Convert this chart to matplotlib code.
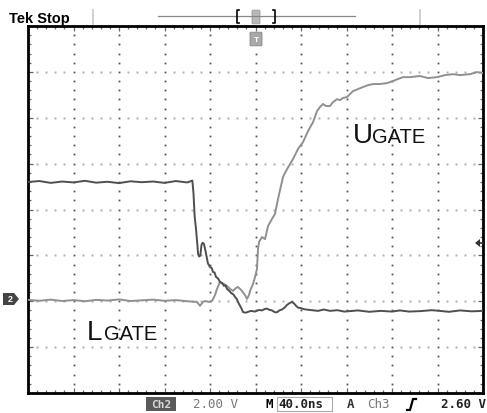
import numpy as np
import matplotlib
matplotlib.use("Agg")
import matplotlib.pyplot as plt
from matplotlib.lines import Line2D
from matplotlib.patches import FancyBboxPatch, Rectangle, Polygon

# ---------------- data (time in ns, voltage in V relative to Ch2 ground) ----------------
lgate_t = [-200, -190, -180, -170, -160, -150, -140, -130, -120, -110, -100, -90, -80, -70, -60,
           -55.5, -54.5, -53.5, -52.3, -51.0, -50.5, -49.5, -48.5, -47.5, -46.5, -45.3, -44.0, -43.0,
           -41.8, -40.0, -38.5, -37.4, -36.0, -34.7, -33.0, -31.2, -29.5, -27.7, -26.5, -25.1, -23.0,
           -21.5, -19.5, -18.0, -16.5, -15.4, -13.6, -12.0, -11.0, -9.0, -7.5, -4.0, -0.4, 3.0, 5.7,
           8.0, 10.1, 12.0, 14.5, 17.0, 18.9, 21.0, 23.3, 25.5, 27.7, 30.0, 32.1, 34.0, 35.6, 37.5,
           39.1, 43.0, 47.9, 55.0, 60.0, 65.5, 72.0, 78.0, 83.1, 90.0, 100.0, 110.0, 120.0, 127.0,
           135.0, 145.0, 155.0, 162.0, 170.0, 180.0, 190.0, 200.0]
lgate_v = [5.10, 5.14, 5.06, 5.12, 5.08, 5.15, 5.07, 5.11, 5.05, 5.13, 5.09, 5.12, 5.06, 5.14, 5.08,
           5.16, 4.60, 3.60, 3.05, 2.30, 1.96, 1.85, 1.90, 2.35, 2.45, 2.40, 2.10, 1.85,
           1.55, 1.39, 1.35, 1.18, 1.15, 0.96, 0.90, 0.74, 0.70, 0.57, 0.60, 0.44, 0.35,
           0.26, 0.20, 0.09, 0.00, -0.13, -0.30, -0.45, -0.57, -0.60, -0.58, -0.52, -0.55, -0.48, -0.50,
           -0.44, -0.42, -0.47, -0.50, -0.58, -0.58, -0.50, -0.46, -0.38, -0.26, -0.18, -0.13, -0.20, -0.30, -0.38,
           -0.39, -0.45, -0.48, -0.52, -0.46, -0.52, -0.49, -0.55, -0.53, -0.50, -0.56, -0.52, -0.55, -0.50,
           -0.55, -0.53, -0.49, -0.52, -0.56, -0.50, -0.54, -0.52]

ugate_t = [-200, -190, -180, -170, -160, -150, -140, -130, -120, -110, -100, -90, -80, -70, -60,
           -51.4, -48.8, -46.1, -44.4, -40.9, -38.2, -35.6, -33.8, -31.2, -27.7, -25.1, -22.4, -19.8,
           -17.1, -15.4, -13.6, -11.9, -9.2, -7.5, -5.7, -4.8, -2.2, -0.4, 1.3, 2.2, 3.1, 5.7, 8.4,
           11.0, 14.5, 17.1, 19.8, 24.2, 27.7, 33.0, 37.4, 41.8, 46.2, 50.6, 54.1, 56.7, 59.3, 62.0,
           65.5, 68.1, 71.6, 74.3, 76.9, 80.4, 83.1, 85.7, 90.1, 94.5, 98.9, 103.3, 109.4, 115.6,
           120.9, 125.3, 129.7, 135.8, 144.6, 151.6, 159.5, 166.6, 173.6, 179.8, 188.5, 194.7, 200.0]
ugate_v = [-0.04, -0.08, -0.03, -0.09, -0.05, -0.10, -0.04, -0.07, -0.02, -0.09, -0.06, -0.03, -0.08, -0.05, -0.10,
           -0.13, -0.30, -0.13, -0.09, -0.13, -0.09, 0.17, 0.44, 0.74, 0.65, 0.57, 0.44, 0.35,
           0.48, 0.52, 0.44, 0.35, 0.17, 0.00, 0.17, 0.35, 0.65, 0.96, 1.31, 2.18, 2.48, 2.70, 2.61,
           3.18, 3.49, 3.70, 4.36, 5.32, 5.66, 6.10, 6.54, 6.84, 7.32, 7.71, 8.19, 8.37, 8.50, 8.41,
           8.41, 8.58, 8.71, 8.67, 8.76, 8.80, 8.93, 9.06, 9.15, 9.24, 9.32, 9.37, 9.37, 9.41,
           9.50, 9.59, 9.67, 9.67, 9.72, 9.63, 9.67, 9.76, 9.80, 9.76, 9.80, 9.89, 9.85]

time_range = (-200, 200)       # 40 ns/div, 10 divisions
volt_range = (-4.10, 11.90)    # 2 V/div, 8 divisions

# ---------------- figure ----------------
W, H = 487, 414
fig = plt.figure(figsize=(W / 100, H / 100), dpi=100)
fig.patch.set_facecolor("white")

def fx(px):
    return px / W

def fy(py):
    return 1 - py / H

ax = fig.add_axes([fx(28), fy(394), fx(483) - fx(28), fy(27) - fy(394)])
ax.set_xlim(*time_range)
ax.set_ylim(*volt_range)

xmaj = np.linspace(time_range[0], time_range[1], 11)
ymaj = np.linspace(volt_range[0], volt_range[1], 9)
xmin = np.linspace(time_range[0], time_range[1], 51)
ymin = np.linspace(volt_range[0], volt_range[1], 41)

ax.set_xticks(xmaj)
ax.set_yticks(ymaj)
ax.set_xticks(xmin, minor=True)
ax.set_yticks(ymin, minor=True)
ax.tick_params(which="both", direction="in", top=True, right=True, bottom=True, left=True,
               labelbottom=False, labelleft=False, color="#666666", width=0.9)
ax.tick_params(which="major", length=3.5)
ax.tick_params(which="minor", length=2.2)
for s in ax.spines.values():
    s.set_linewidth(2.0)
    s.set_color("black")

# dotted graticule
for xv in xmaj[1:-1]:
    ax.plot(np.full(len(ymin) - 2, xv), ymin[1:-1], ls="none", marker="s", ms=1.3,
            mec="none", mfc="#555555", zorder=1)
for yv in ymaj[1:-1]:
    pts = [x for x in xmin[1:-1] if not np.any(np.isclose(x, xmaj))]
    ax.plot(pts, np.full(len(pts), yv), ls="none", marker="s", ms=1.8,
            mec="none", mfc="#b0b0b0", zorder=1)

# traces
ax.plot(ugate_t, ugate_v, color="#909090", lw=1.4, zorder=3)
ax.plot(lgate_t, lgate_v, color="#4f4f4f", lw=1.4, zorder=4)

# labels
fs_big, fs_small = 20, 14.5
fam = ["Liberation Sans", "DejaVu Sans"]
fig.text(fx(353), fy(143), "U", fontsize=fs_big, family=fam, color="#111111", va="baseline")
fig.text(fx(372), fy(143), "GATE", fontsize=fs_small, family=fam, color="#111111", va="baseline")
fig.text(fx(87), fy(340), "L", fontsize=fs_big, family=fam, color="#111111", va="baseline")
fig.text(fx(104), fy(340), "GATE", fontsize=fs_small, family=fam, color="#111111", va="baseline")

# top status bar
fig.text(fx(9), fy(23), "Tek Stop", fontsize=10.5, weight="bold", family=fam, color="black",
         va="baseline")
fig.add_artist(Line2D([fx(158), fx(355)], [fy(17), fy(17)], color="#888888", lw=0.9))
for px in (93, 420):
    fig.add_artist(Line2D([fx(px), fx(px)], [fy(11), fy(25)], color="#c8c8c8", lw=1.2))
fig.add_artist(Line2D([fx(239), fx(237), fx(237), fx(239)], [fy(11), fy(11), fy(24), fy(24)],
                      color="black", lw=1.2))
fig.add_artist(Line2D([fx(273), fx(275), fx(275), fx(273)], [fy(11), fy(11), fy(24), fy(24)],
                      color="black", lw=1.2))
fig.add_artist(FancyBboxPatch((fx(253), fy(24)), fx(6), fy(12) - fy(24),
                              boxstyle="round,pad=0.002", fc="#b8b8b8", ec="#999999", lw=0.6))
# trigger position marker below top edge
fig.add_artist(FancyBboxPatch((fx(251), fy(46)), fx(10), fy(34) - fy(46),
                              boxstyle="round,pad=0.002", fc="#a8a8a8", ec="#888888", lw=0.6))
fig.text(fx(256), fy(41), "T", fontsize=6, color="white", ha="center", va="center",
         weight="bold", family=fam)

# ground marker (Ch2) on left
fig.add_artist(Polygon([[fx(3), fy(294)], [fx(14), fy(294)], [fx(19), fy(300)],
                        [fx(14), fy(306)], [fx(3), fy(306)]], closed=True, fc="#444444", ec="none"))
fig.text(fx(10), fy(300), "2", fontsize=6.5, color="white", ha="center", va="center",
         weight="bold", family=fam)

# trigger level arrow on right
fig.add_artist(Polygon([[fx(475), fy(244)], [fx(480), fy(240)], [fx(480), fy(248)]],
                       closed=True, fc="#333333", ec="none"))
fig.add_artist(Line2D([fx(479), fx(483)], [fy(244), fy(244)], color="#333333", lw=1.2))

# bottom status bar
mono = ["DejaVu Sans Mono"]
fig.add_artist(Rectangle((fx(146), fy(412)), fx(30), fy(398) - fy(412), fc="#5a5a5a", ec="none"))
fig.text(fx(161), fy(405), "Ch2", fontsize=8, color="#d8d8d8", ha="center", va="center",
         weight="bold", family=mono)
fig.text(fx(193), fy(405), "2.00 V", fontsize=9, color="#777777", va="center", family=mono)
fig.text(fx(265), fy(405), "M", fontsize=9, color="black", va="center", weight="bold", family=mono)
fig.add_artist(Rectangle((fx(277), fy(412)), fx(55), fy(398) - fy(412), fc="none", ec="#aaaaaa", lw=0.8))
fig.text(fx(278), fy(405), "40.0ns", fontsize=9, color="#222222", va="center", weight="bold",
         family=mono)
fig.text(fx(347), fy(405), "A", fontsize=9, color="#333333", va="center", weight="bold", family=mono)
fig.text(fx(367), fy(405), "Ch3", fontsize=9, color="#777777", va="center", family=mono)
fig.add_artist(Line2D([fx(407), fx(410), fx(413), fx(416)], [fy(411), fy(411), fy(400), fy(400)],
                      color="black", lw=1.6))
fig.text(fx(486), fy(405), "2.60 V", fontsize=9, color="#222222", va="center", ha="right",
         weight="bold", family=mono)

fig.savefig("out.png", dpi=100, facecolor="white")
